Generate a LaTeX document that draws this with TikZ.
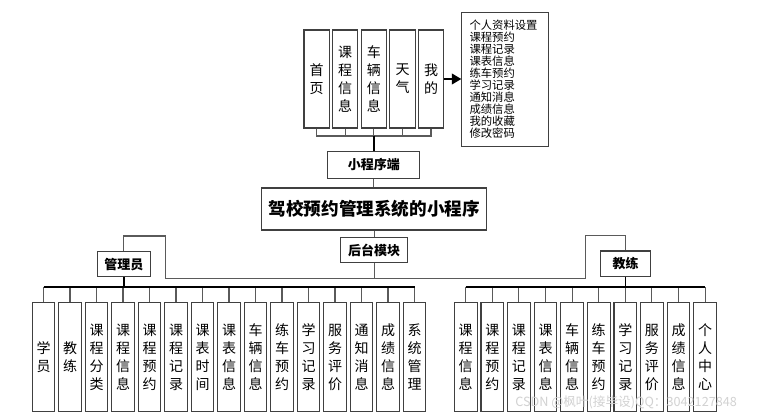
\documentclass[tikz,border=0pt]{standalone}
\usepackage{fontspec}
\setmainfont{Noto Sans CJK SC}
\usetikzlibrary{arrows.meta}
\definecolor{boxline}{HTML}{404040}
\definecolor{conline}{HTML}{5A5A5A}
\begin{document}
\begin{tikzpicture}[x=0.75pt,y=-0.75pt,
  topbox/.style={draw=boxline, line width=0.8pt, fill=white, inner sep=0pt,
    minimum width=19.1pt, minimum height=73.5pt, align=center,
    font=\fontsize{10.5}{13.5}\selectfont},
  leafbox/.style={draw=boxline, line width=0.8pt, fill=white, inner sep=0pt,
    minimum width=17pt, minimum height=81.75pt, align=center,
    font=\fontsize{10.5}{13.5}\selectfont},
  labelbox/.style={draw=boxline, line width=0.8pt, fill=white, inner sep=0pt,
    align=center, font=\fontsize{9.75}{11}\selectfont\bfseries},
  gl/.style={draw=conline, line width=0.8pt},
  tl/.style={draw=black, line width=1.4pt},
]
\useasboundingbox (0,0) rectangle (784,416);

% top feature boxes
\node[topbox] (b1) at (316.7,79) {首\\页};
\node[topbox] (b2) at (345.2,79) {课\\程\\信\\息};
\node[topbox] (b3) at (373.8,79) {车\\辆\\信\\息};
\node[topbox] (b4) at (402.5,79) {天\\气};
\node[topbox] (b5) at (431,79) {我\\的};

% list box
\node[draw=boxline, line width=0.8pt, fill=white, inner xsep=5.8pt, inner ysep=0pt,
  text width=53.3pt, minimum height=100.7pt, align=left,
  font=\fontsize{8.5}{9}\selectfont, anchor=north west] (list) at (461.3,11.7)
  {个人资料设置\\课程预约\\课程记录\\课表信息\\练车预约\\学习记录\\通知消息\\成绩信息\\我的收藏\\修改密码};
\draw[black, line width=1pt, -{Triangle[length=7pt,width=8pt]}] (b5.east) -- (list.west |- b5.east);

% mini program node
\node[labelbox, minimum width=69pt, minimum height=20pt] (xcx) at (373.8,165) {小程序端};
\coordinate (tb) at (373.8,136);
\draw[gl] (b1.south) -- (b1.south |- tb) -- (b5.south |- tb) -- (b5.south);
\foreach \n in {b2,b3,b4} \draw[gl] (\n.south) -- (\n.south |- tb);
\draw[tl] (tb) -- (xcx.north);

% title
\node[draw=boxline, line width=0.8pt, fill=white, minimum width=168.75pt, minimum height=31.5pt,
  inner sep=0pt, font=\fontsize{13.2}{15}\selectfont\bfseries] (title) at (374.2,209) {驾校预约管理系统的小程序};
\draw[gl] (xcx.south) -- (xcx.south |- title.north);

% backend
\node[labelbox, minimum width=50.25pt, minimum height=19pt] (ht) at (374.2,250) {后台模块};
\draw[gl] (title.south) -- (ht.north);

% roles
\node[labelbox, minimum width=39.75pt, minimum height=18.75pt] (gly) at (123.8,264.2) {管理员};
\node[labelbox, minimum width=37.2pt, minimum height=19pt] (jl) at (625.5,263.7) {教练};
\coordinate (hm) at (374.2,278.3);
\coordinate (hl) at (165.3,278.3);
\coordinate (hr) at (585.7,278.3);
\coordinate (ul) at (165.3,236);
\coordinate (ur) at (585.7,235.3);
\draw[gl] (ht.south) -- (hm);
\draw[gl] (gly.north) |- (ul) -- (hl) -- (hr) -- (ur) -| (jl.north);

% admin leaves
\foreach \i/\t in {1/学\\员, 2/教\\练, 3/课\\程\\分\\类, 4/课\\程\\信\\息, 5/课\\程\\预\\约,
  6/课\\程\\记\\录, 7/课\\表\\时\\间, 8/课\\表\\信\\息, 9/车\\辆\\信\\息, 10/练\\车\\预\\约,
  11/学\\习\\记\\录, 12/服\\务\\评\\价, 13/通\\知\\消\\息, 14/成\\绩\\信\\息, 15/系\\统\\管\\理}
  \node[leafbox] (L\i) at ({43.5+26.5*(\i-1)},357.2) {\t};
\coordinate (lbus) at (123.8,287);
\foreach \i in {1,...,15} \draw[gl] (L\i.north) -- (L\i.north |- lbus);
\draw[tl] (L1.north |- lbus) -- (L15.north |- lbus);
\draw[tl] (gly.south) -- (lbus);

% coach leaves
\foreach \i/\t in {1/课\\程\\信\\息, 2/课\\程\\预\\约, 3/课\\程\\记\\录, 4/课\\表\\信\\息,
  5/车\\辆\\信\\息, 6/练\\车\\预\\约, 7/学\\习\\记\\录, 8/服\\务\\评\\价, 9/成\\绩\\信\\息, 10/个\\人\\中\\心}
  \node[leafbox] (R\i) at ({465.7+26.6*(\i-1)},357.2) {\t};
\coordinate (rbus) at (625.5,287);
\foreach \i in {1,...,10} \draw[gl] (R\i.north) -- (R\i.north |- rbus);
\draw[tl] (R1.north |- rbus) -- (R10.north |- rbus);
\draw[tl] (jl.south) -- (rbus);

% watermark
\node[anchor=west, inner sep=0pt, text=gray!35, font=\fontsize{9.5}{10}\selectfont] (wm) at (515,402.7) {CSDN @枫叶(接毕设)QQ：3042127848};
\end{tikzpicture}
\end{document}
